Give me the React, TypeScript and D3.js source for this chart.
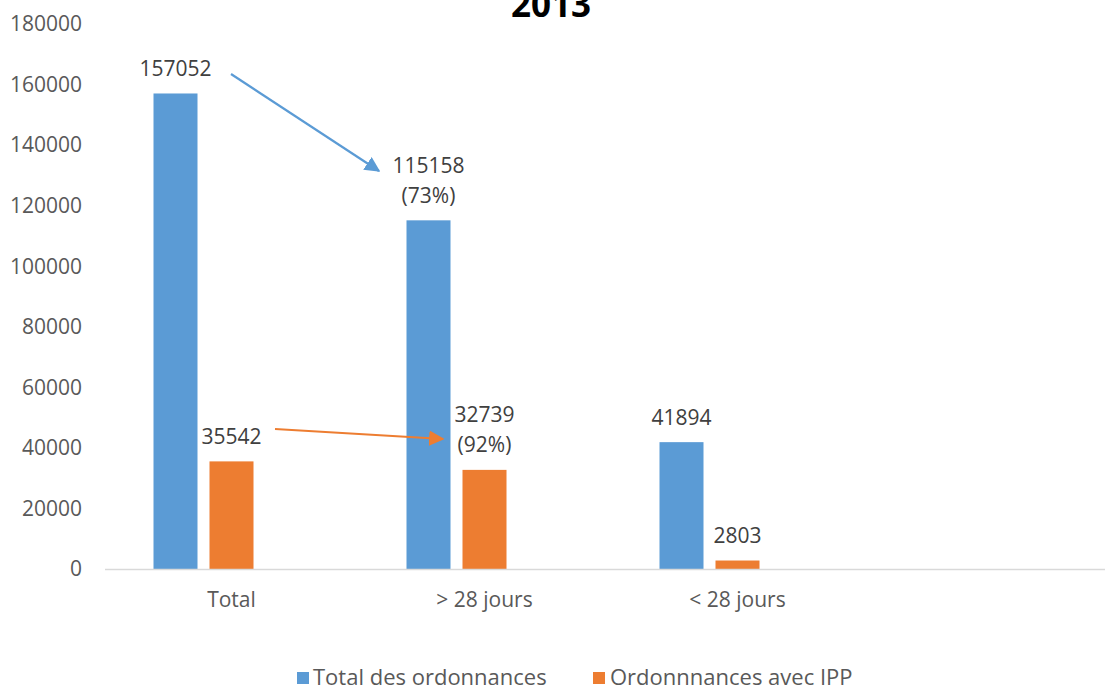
import React from "react";
import * as d3 from "d3";

const categories = ["Total", "> 28 jours", "< 28 jours", ""];
const seriesNames = ["Total des ordonnances", "Ordonnnances avec IPP", "hidden"];
const totalOrdonnances = [157052, 115158, 41894, null];
const ordonnancesIPP = [35542, 32739, 2803, null];
const percentTotal = [null, "(73%)", null, null];
const percentIPP = [null, "(92%)", null, null];
const yTicks = [0, 20000, 40000, 60000, 80000, 100000, 120000, 140000, 160000, 180000];
const title = "2013";

const W = 1105;
const H = 689;
const BLUE = "#5B9BD5";
const ORANGE = "#ED7D31";
const FONT = "'Open Sans', sans-serif";
const FS = 21;

export default function App() {
  const x = d3.scaleBand<string>().domain(categories.map((c, i) => c + "|" + i)).range([105, 1117]).paddingInner(0).paddingOuter(0);
  const y = d3.scaleLinear().domain([0, 180000]).range([569, 24]);
  const sub = d3.scaleBand<string>().domain(seriesNames).range([48.5, 204.5]).paddingInner(12 / 56).paddingOuter(0);
  const key = (i: number) => categories[i] + "|" + i;
  const bw = sub.bandwidth();

  const series = [
    { name: seriesNames[0], values: totalOrdonnances, pct: percentTotal, color: BLUE },
    { name: seriesNames[1], values: ordonnancesIPP, pct: percentIPP, color: ORANGE },
  ];

  const barX = (s: number, i: number) => (x(key(i)) as number) + (sub(seriesNames[s]) as number);

  return (
    <svg width={W} height={H} style={{ position: "fixed", left: 0, top: 0, background: "#fff" }} fontFamily={FONT}>
      <defs>
        <marker id="ahBlue" viewBox="0 0 10 10" refX="9" refY="5" markerWidth="7" markerHeight="7" markerUnits="strokeWidth" orient="auto">
          <path d="M0,0 L10,5 L0,10 z" fill={BLUE} />
        </marker>
        <marker id="ahOrange" viewBox="0 0 10 10" refX="9" refY="5" markerWidth="7" markerHeight="7" markerUnits="strokeWidth" orient="auto">
          <path d="M0,0 L10,5 L0,10 z" fill={ORANGE} />
        </marker>
      </defs>
      <rect x={0} y={0} width={W} height={H} fill="#fff" />
      <text x={551} y={17} textAnchor="middle" fontWeight="bold" fontSize={35} fill="#000">{title}</text>

      {yTicks.map((t) => (
        <text key={t} x={82} y={y(t)} dy="0.35em" textAnchor="end" fontSize={FS} fill="#595959">{t}</text>
      ))}

      {series.map((s, si) =>
        s.values.map((v, i) =>
          v == null ? null : (
            <rect key={si + "-" + i} x={barX(si, i)} y={y(v)} width={bw} height={y(0) - y(v)} fill={s.color} />
          )
        )
      )}

      <line x1={105} x2={W} y1={y(0) + 0.5} y2={y(0) + 0.5} stroke="#d9d9d9" strokeWidth={1.5} />

      {categories.map((c, i) => (
        <text key={"c" + i} x={(x(key(i)) as number) + x.bandwidth() / 2} y={600} dy="0.35em" textAnchor="middle" fontSize={FS} fill="#595959">{c}</text>
      ))}

      {series.map((s, si) =>
        s.values.map((v, i) => {
          if (v == null) return null;
          const cx = barX(si, i) + bw / 2;
          const top = y(v);
          if (s.pct[i]) {
            return (
              <g key={"l" + si + "-" + i}>
                <text x={cx} y={top - 55} dy="0.35em" textAnchor="middle" fontSize={FS} fill="#404040">{v}</text>
                <text x={cx} y={top - 25} dy="0.35em" textAnchor="middle" fontSize={FS} fill="#404040">{s.pct[i]}</text>
              </g>
            );
          }
          return <text key={"l" + si + "-" + i} x={cx} y={top - 25} dy="0.35em" textAnchor="middle" fontSize={FS} fill="#404040">{v}</text>;
        })
      )}

      <line x1={231} y1={74} x2={379} y2={171} stroke={BLUE} strokeWidth={2.2} markerEnd="url(#ahBlue)" />
      <line x1={275} y1={429} x2={443} y2={439} stroke={ORANGE} strokeWidth={2.2} markerEnd="url(#ahOrange)" />

      <rect x={297} y={672} width={12} height={12} fill={BLUE} />
      <text x={313} y={677} dy="0.35em" fontSize={22} fill="#595959">{seriesNames[0]}</text>
      <rect x={593} y={672} width={12} height={12} fill={ORANGE} />
      <text x={610} y={677} dy="0.35em" fontSize={22} fill="#595959">{seriesNames[1]}</text>
    </svg>
  );
}
